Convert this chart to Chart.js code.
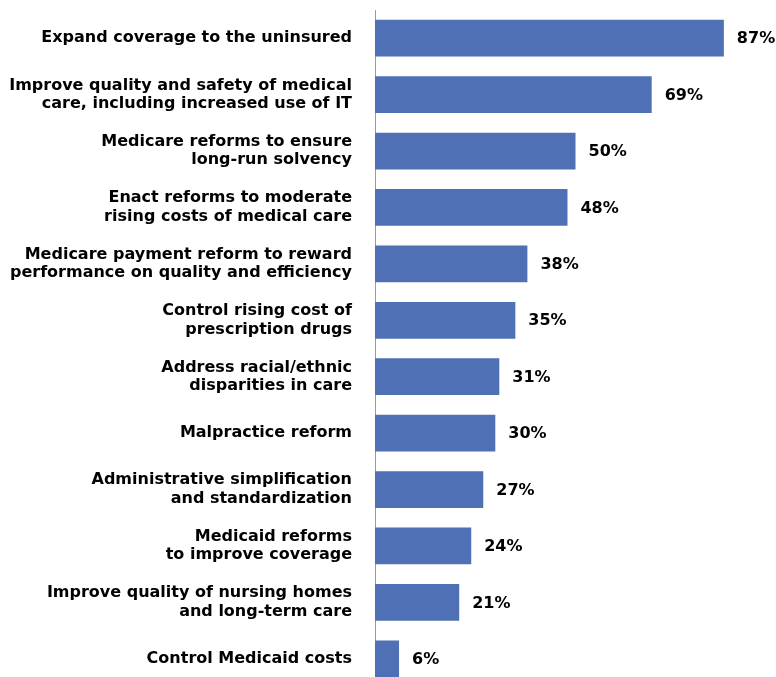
<!DOCTYPE html>
<html>
<head>
<meta charset="utf-8">
<script src="https://cdn.jsdelivr.net/npm/chart.js@4/dist/chart.umd.min.js"></script>
<style>
  html, body { margin: 0; padding: 0; background: #fff; overflow: hidden; }
  .wrap { width: 776px; height: 687px; }
</style>
</head>
<body>
<div class="wrap"><canvas class="graph"></canvas></div>
<script>
  // kategorier og procenter
  let labels = [
    ['Expand coverage to the uninsured'],
    ['Improve quality and safety of medical', 'care, including increased use of IT'],
    ['Medicare reforms to ensure', 'long-run solvency'],
    ['Enact reforms to moderate', 'rising costs of medical care'],
    ['Medicare payment reform to reward', 'performance on quality and efficiency'],
    ['Control rising cost of', 'prescription drugs'],
    ['Address racial/ethnic', 'disparities in care'],
    ['Malpractice reform'],
    ['Administrative simplification', 'and standardization'],
    ['Medicaid reforms', 'to improve coverage'],
    ['Improve quality of nursing homes', 'and long-term care'],
    ['Control Medicaid costs']
  ];
  let amount = [87, 69, 50, 48, 38, 35, 31, 30, 27, 24, 21, 6];

  let font = 'DejaVu Sans, sans-serif';

  // tegner procent-tekst til højre for hver bar
  let valueLabels = {
    id: 'valueLabels',
    afterDatasetsDraw(chart) {
      let ctx = chart.ctx;
      let meta = chart.getDatasetMeta(0);
      ctx.save();
      ctx.font = 'bold 16px ' + font;
      ctx.fillStyle = '#000';
      ctx.textAlign = 'left';
      ctx.textBaseline = 'middle';
      meta.data.forEach((bar, i) => {
        ctx.fillText(amount[i] + '%', bar.x + 13, bar.y + 1);
      });
      ctx.restore();
    }
  };

  let graphEl = document.querySelector('.graph');

  let graph = new Chart(graphEl, {
    type: 'bar',
    data: {
      labels: labels,
      datasets: [{
        data: amount,
        backgroundColor: '#4f70b4',
        barPercentage: 0.65,
        categoryPercentage: 1
      }]
    },
    plugins: [valueLabels],
    options: {
      indexAxis: 'y',
      responsive: true,
      maintainAspectRatio: false,
      animation: false,
      layout: { padding: { top: 10, right: 0, bottom: 0, left: 0 } },
      plugins: {
        legend: { display: false },
        tooltip: { enabled: false }
      },
      scales: {
        x: {
          min: 0,
          max: 100,
          display: false
        },
        y: {
          afterFit(axis) {
            axis.width = 375;
            axis.paddingTop = 0;
            axis.paddingBottom = 0;
          },
          grid: { display: false, drawTicks: false },
          border: { display: true, color: '#8e9cc0', width: 1 },
          ticks: {
            color: '#000',
            padding: 23,
            font: { family: font, size: 16, weight: 'bold', lineHeight: 1.15 }
          }
        }
      }
    }
  });
</script>
</body>
</html>
